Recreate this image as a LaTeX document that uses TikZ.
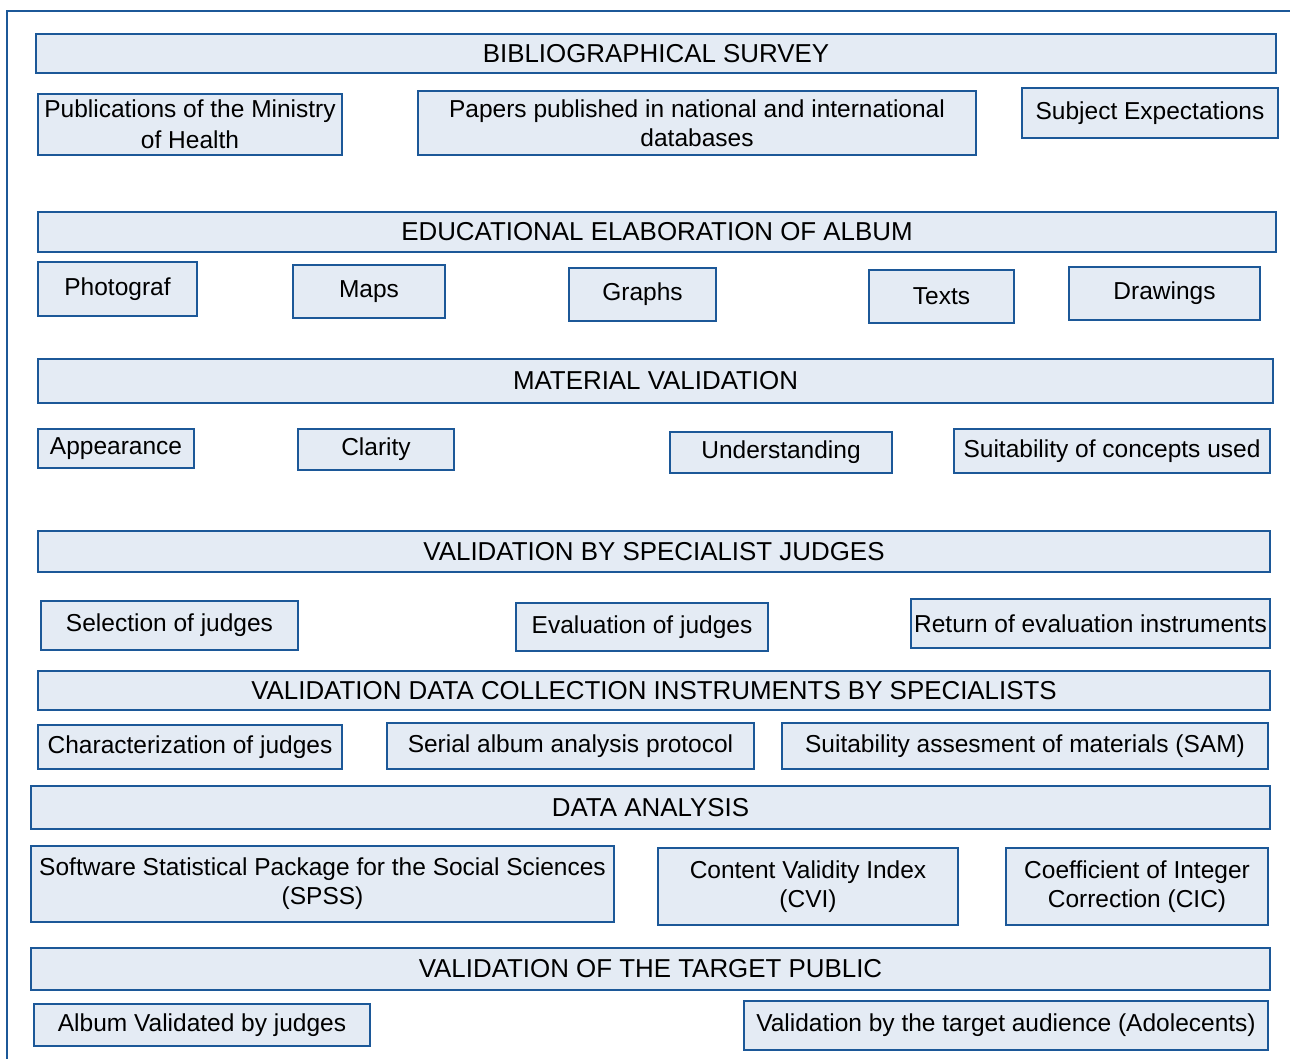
\documentclass[tikz,border=0pt]{standalone}
\usepackage{fontspec}
\setmainfont{Liberation Sans}
\usepackage{tikz}

\definecolor{boxblue}{RGB}{28,88,152}
\definecolor{boxfill}{RGB}{228,235,244}

\begin{document}
\begin{tikzpicture}[x=1pt,y=-1pt,
    font=\fontsize{24.5}{31}\selectfont,
    box/.style={draw=boxblue,fill=boxfill,line width=2.8pt,inner sep=0pt,align=center},
    head/.style={box,font=\fontsize{25.9}{31}\selectfont},
    frame/.style={draw=boxblue,line width=2.8pt}]
      \useasboundingbox (0,0) rectangle (1290,1059);
      \coordinate (fa) at (7,1062);
      \coordinate (fb) at (7,11);
      \coordinate (fc) at (1292,11);
      \draw[frame] (fa) -- (fb) -- (fc);
      \node[head,minimum width=1240,minimum height=39] (bib) at (656,53.5) {BIBLIOGRAPHICAL SURVEY};
      \node[box,minimum width=304,minimum height=61] (pub) at (190,124.5) {\raisebox{-4pt}{Publications of the Ministry}\\[0pt]\raisebox{-4pt}{of Health}};
      \node[box,minimum width=558,minimum height=64] (pap) at (697,123) {Papers published in national and international\\[-2pt]databases};
      \node[box,minimum width=256,minimum height=50] (subj) at (1150,113) {Subject Expectations};
      \node[head,minimum width=1238,minimum height=40] (edu) at (657,232) {EDUCATIONAL ELABORATION OF ALBUM};
      \node[box,minimum width=159,minimum height=54] (photo) at (117.5,289) {Photograf};
      \node[box,minimum width=152,minimum height=53] (maps) at (369,291.5) {Maps};
      \node[box,minimum width=147,minimum height=53] (graphs) at (642.5,294.5) {Graphs};
      \node[box,minimum width=145,minimum height=53] (texts) at (941.5,296.5) {Texts};
      \node[box,minimum width=191,minimum height=53] (draws) at (1164.5,293.5) {Drawings};
      \node[head,minimum width=1235,minimum height=44] (mat) at (655.5,381) {MATERIAL VALIDATION};
      \node[box,minimum width=156,minimum height=39] (appear) at (116,448.5) {\raisebox{-3pt}{Appearance}};
      \node[box,minimum width=156,minimum height=41] (clar) at (376,449.5) {\raisebox{-3pt}{Clarity}};
      \node[box,minimum width=222,minimum height=41] (under) at (781,452.5) {Understanding};
      \node[box,minimum width=316,minimum height=44] (suitc) at (1112,451) {Suitability of concepts used};
      \node[head,minimum width=1232,minimum height=41] (spec) at (654,551.5) {VALIDATION BY SPECIALIST JUDGES};
      \node[box,minimum width=257,minimum height=49] (selj) at (169.5,625.5) {Selection of judges};
      \node[box,minimum width=252,minimum height=48] (evalj) at (642,627) {Evaluation of judges};
      \node[box,minimum width=359,minimum height=49] (retj) at (1090.5,623.5) {Return of evaluation instruments};
      \node[head,minimum width=1232,minimum height=39] (instr) at (654,690.5) {VALIDATION DATA COLLECTION INSTRUMENTS BY SPECIALISTS};
      \node[box,minimum width=304,minimum height=44] (charj) at (190,747) {Characterization of judges};
      \node[box,minimum width=367,minimum height=46] (serial) at (570.5,746) {Serial album analysis protocol};
      \node[box,minimum width=486,minimum height=46] (sam) at (1025,746) {Suitability assesment of materials (SAM)};
      \node[head,minimum width=1239,minimum height=43] (data) at (650.5,807.5) {DATA ANALYSIS};
      \node[box,minimum width=583,minimum height=76] (spss) at (322.5,884) {Software Statistical Package for the Social Sciences\\[-2pt](SPSS)};
      \node[box,minimum width=300,minimum height=77] (cvi) at (808,886.5) {Content Validity Index\\[-2pt](CVI)};
      \node[box,minimum width=262,minimum height=77] (cic) at (1137,886.5) {Coefficient of Integer\\[-2pt]Correction (CIC)};
      \node[head,minimum width=1239,minimum height=42] (targ) at (650.5,969) {VALIDATION OF THE TARGET PUBLIC};
      \node[box,minimum width=336,minimum height=42] (albv) at (202,1025) {Album Validated by judges};
      \node[box,minimum width=524,minimum height=49] (vaud) at (1006,1025.5) {Validation by the target audience (Adolecents)};
    \end{tikzpicture}
\end{document}
